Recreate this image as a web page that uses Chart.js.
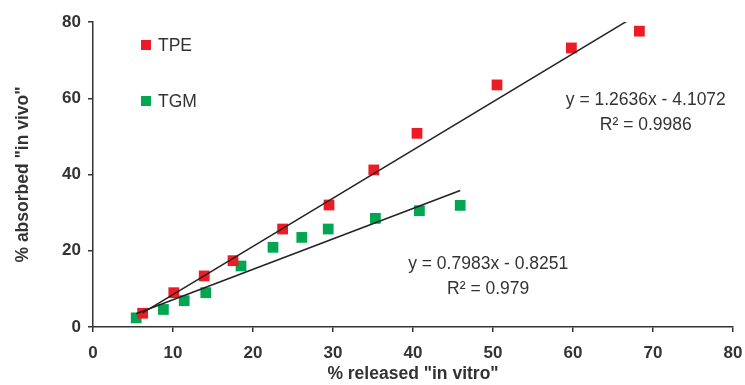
<!DOCTYPE html>
<html>
<head>
<meta charset="utf-8">
<script src="https://cdn.jsdelivr.net/npm/chart.js@4/dist/chart.umd.min.js"></script>
<style>
  html, body { margin: 0; padding: 0; background: #fff; }
  #wrap { width: 745px; height: 385px; position: relative; }
</style>
</head>
<body>
<div id="wrap"><canvas id="chart"></canvas></div>
<script>
// values
const tpeX = [6.2, 10.1, 13.9, 17.5, 23.7, 29.5, 35.1, 40.5, 50.5, 59.8, 68.3];
const tpeY = [3.6, 9.0, 13.4, 17.4, 25.7, 32.0, 41.2, 50.8, 63.5, 73.2, 77.6];
const tgmX = [5.4, 8.8, 11.4, 14.1, 18.5, 22.5, 26.1, 29.4, 35.3, 40.8, 45.9];
const tgmY = [2.4, 4.6, 6.9, 9.0, 16.0, 20.9, 23.5, 25.7, 28.5, 30.5, 31.9];

// regression lines as printed on the chart
const tpeFit = { slope: 1.2636, intercept: -4.1072, r2: '0.9986' };
const tgmFit = { slope: 0.7983, intercept: -0.8251, r2: '0.979' };

const xTicks = [0, 10, 20, 30, 40, 50, 60, 70, 80];
const yTicks = [0, 20, 40, 60, 80];

const RED = '#ed1c24';
const GREEN = '#00a651';
const INK = '#333333';
const FAMILY = '"Liberation Sans", Arial, sans-serif';

function points(xs, ys) {
    return xs.map((x, i) => ({ x: x, y: ys[i] }));
}

function fitLine(xs, fit) {
    let lo = Math.min(...xs), hi = Math.max(...xs);
    return [lo, hi].map(x => ({ x: x, y: fit.slope * x + fit.intercept }));
}

function eqText(fit) {
    let sign = fit.intercept < 0 ? ' - ' : ' + ';
    return 'y = ' + fit.slope.toFixed(4) + 'x' + sign + Math.abs(fit.intercept).toFixed(4);
}

const notes = {
    id: 'notes',
    afterDatasetsDraw(chart) {
        let ctx = chart.ctx;
        let xs = chart.scales.x, ys = chart.scales.y;
        ctx.save();
        ctx.fillStyle = INK;
        ctx.font = '17.5px ' + FAMILY;
        ctx.textAlign = 'center';
        ctx.textBaseline = 'middle';
        [[tpeFit, 69.1, 59.5], [tgmFit, 49.4, 16.6]].forEach(([fit, x, y]) => {
            let px = xs.getPixelForValue(x), py = ys.getPixelForValue(y);
            ctx.fillText(eqText(fit), px, py);
            ctx.fillText('R\u00b2 = ' + fit.r2, px, py + 25);
        });

        // legend inside the plot
        ctx.textAlign = 'left';
        [['TPE', RED, 45], ['TGM', GREEN, 101]].forEach(([name, col, py]) => {
            ctx.fillStyle = col;
            ctx.fillRect(141, py - 5, 10, 10);
            ctx.fillStyle = INK;
            ctx.fillText(name, 158, py + 1);
        });
        ctx.restore();
    }
};

const config = {
    type: 'scatter',
    data: {
        datasets: [
            { label: 'TPE', data: points(tpeX, tpeY), backgroundColor: RED, borderColor: RED,
              pointStyle: 'rect', pointRadius: 7.6, borderWidth: 0, order: 1 },
            { label: 'TGM', data: points(tgmX, tgmY), backgroundColor: GREEN, borderColor: GREEN,
              pointStyle: 'rect', pointRadius: 7.6, borderWidth: 0, order: 1 },
            { label: 'TPE fit', type: 'line', data: fitLine(tpeX, tpeFit), borderColor: '#222',
              borderWidth: 1.5, pointRadius: 0, fill: false, order: 0 },
            { label: 'TGM fit', type: 'line', data: fitLine(tgmX, tgmFit), borderColor: '#222',
              borderWidth: 1.5, pointRadius: 0, fill: false, order: 0 }
        ]
    },
    options: {
        responsive: true,
        maintainAspectRatio: false,
        animation: false,
        layout: { padding: { top: 22, right: 12, left: 0, bottom: 0 } },
        plugins: { legend: { display: false }, tooltip: { enabled: false } },
        scales: {
            x: {
                type: 'linear', min: 0, max: 80,
                afterBuildTicks: s => { s.ticks = xTicks.map(v => ({ value: v })); },
                afterFit: s => { s.height = 58; s.paddingRight = 0; s.paddingLeft = 0; },
                grid: { drawOnChartArea: false, drawTicks: true, tickLength: 5, color: INK, lineWidth: 1.5 },
                border: { color: INK, width: 1.5 },
                ticks: { color: INK, padding: 11, font: { size: 17, weight: 'bold', family: FAMILY } },
                title: { display: true, text: '% released "in vitro"', color: INK, padding: { top: 0, bottom: 0 },
                         font: { size: 17.5, weight: 'bold', family: FAMILY } }
            },
            y: {
                type: 'linear', min: 0, max: 80,
                afterBuildTicks: s => { s.ticks = yTicks.map(v => ({ value: v })); },
                afterFit: s => { s.width = 93; s.paddingTop = 0; s.paddingBottom = 0; },
                grid: { drawOnChartArea: false, drawTicks: true, tickLength: 5, color: INK, lineWidth: 1.5 },
                border: { color: INK, width: 1.5 },
                ticks: { color: INK, padding: 7, font: { size: 17, weight: 'bold', family: FAMILY } },
                title: { display: true, text: '% absorbed "in vivo"', color: INK, padding: { top: 13, bottom: 0 },
                         font: { size: 17.5, weight: 'bold', family: FAMILY } }
            }
        }
    },
    plugins: [notes]
};

let chart = new Chart(document.getElementById('chart'), config);
</script>
</body>
</html>
